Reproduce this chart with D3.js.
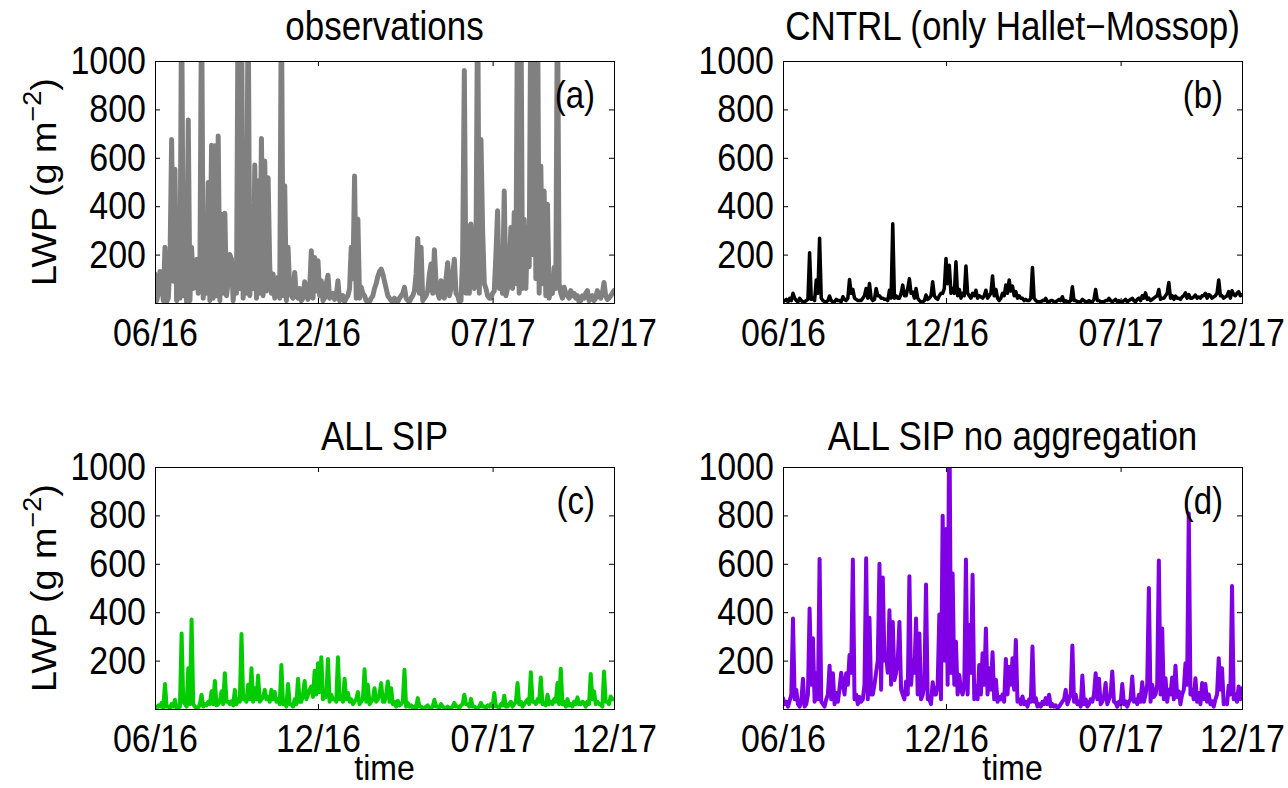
<!DOCTYPE html>
<html lang="en">
<head>
<meta charset="UTF-8">
<title>LWP time series</title>
<style>
    body { margin: 0; background: #ffffff; }
    text { font-family: "Liberation Sans", Arial, Helvetica, sans-serif; fill: #000000; }
    .box { fill: none; stroke: #000000; stroke-width: 1px; }
    .axis .domain { display: none; }
    .axis .tick line { stroke: #000000; stroke-width: 1px; }
    .axis .tick text { font-size: 34px; fill: #000000; }
    .series { fill: none; stroke-linejoin: round; stroke-linecap: round; }
    .title { font-size: 35px; }
    .letter { font-size: 33px; }
    .ylabel { font-size: 35px; }
    .xlabel { font-size: 32px; }
</style>
</head>
<body>
<script src="https://d3js.org/d3.v7.min.js"></script>
<script>
var width = 1288;
var height = 788;

// sampling of the series: one value every 2 days from the start date
var startDate = "2016-06-01";
var stepDays = 2;
var tickDates = ["2016-06-01", "2016-12-14", "2017-07-12", "2017-12-05"];
var yTicks = [200, 400, 600, 800, 1000];

var panelTitles = ["observations", "CNTRL (only Hallet\u2212Mossop)", "ALL SIP", "ALL SIP no aggregation"];
var panelLetters = ["(a)", "(b)", "(c)", "(d)"];
var panelColors = ["#808080", "#000000", "#00cc00", "#8000e6"];
var lineWidths = [5, 3.5, 4, 4];

// LWP (g m-2), values above 1000 run off the top of the axes
var observations = [
    120, 10, 40, 130, 90, 10, 230, 5, 20, 160,
    676, 90, 553, 10, 60, 20, 1300, 30, 150, 5,
    756, 10, 230, 60, 110, 180, 40, 120, 1300, 20,
    216, 40, 498, 10, 652, 20, 650, 30, 690, 10,
    367, 40, 371, 30, 90, 200, 181, 10, 120, 40,
    1300, 60, 1300, 20, 285, 40, 1300, 30, 160, 60,
    570, 20, 505, 40, 680, 30, 587, 50, 518, 150,
    40, 120, 20, 60, 106, 20, 1300, 30, 484, 10,
    230, 60, 30, 20, 126, 30, 20, 60, 10, 20,
    88, 40, 15, 60, 216, 20, 188, 50, 175, 30,
    92, 10, 20, 80, 115, 20, 30, 40, 15, 30,
    92, 10, 20, 30, 5, 20, 30, 60, 230, 100,
    525, 20, 346, 20, 65, 40, 30, 10, 10, 5,
    20, 30, 60, 80, 110, 130, 140, 120, 90, 60,
    30, 20, 10, 5, 20, 10, 5, 20, 30, 40,
    65, 20, 10, 5, 20, 30, 50, 120, 267, 40,
    230, 10, 20, 30, 50, 120, 161, 40, 220, 80,
    40, 20, 92, 60, 20, 100, 166, 30, 60, 120,
    181, 40, 30, 5, 10, 200, 961, 40, 319, 40,
    326, 150, 60, 200, 1300, 40, 676, 300, 80, 60,
    30, 20, 20, 40, 50, 200, 381, 60, 90, 40,
    463, 30, 60, 150, 312, 60, 374, 80, 1300, 40,
    1300, 60, 346, 60, 312, 150, 1300, 200, 1300, 100,
    1300, 40, 566, 80, 463, 30, 408, 20, 60, 40,
    147, 60, 1300, 80, 40, 20, 65, 40, 30, 20,
    51, 30, 40, 20, 30, 5, 10, 30, 20, 40,
    51, 10, 20, 30, 10, 20, 51, 30, 20, 40,
    85, 30, 15, 20, 30, 40, 51
];

var cntrl = [
    5, 10, 15, 5, 19, 10, 40, 20, 10, 5,
    19, 10, 5, 5, 10, 15, 208, 15, 20, 10,
    95, 40, 268, 20, 10, 5, 5, 10, 29, 10,
    5, 5, 15, 10, 10, 5, 26, 15, 10, 20,
    97, 40, 56, 20, 15, 10, 10, 10, 20, 30,
    60, 20, 81, 20, 10, 15, 60, 30, 30, 20,
    20, 15, 15, 10, 53, 20, 327, 20, 30, 20,
    20, 40, 74, 30, 30, 60, 100, 40, 45, 20,
    60, 20, 10, 5, 5, 10, 33, 15, 20, 30,
    88, 30, 20, 15, 30, 40, 40, 60, 184, 80,
    156, 40, 60, 40, 170, 30, 56, 20, 40, 30,
    153, 40, 30, 20, 40, 30, 53, 20, 30, 25,
    20, 30, 53, 20, 30, 40, 112, 30, 56, 20,
    10, 20, 40, 30, 74, 40, 95, 50, 70, 30,
    47, 20, 30, 20, 20, 10, 15, 10, 10, 20,
    147, 20, 10, 5, 5, 5, 10, 10, 19, 5,
    5, 10, 10, 5, 5, 10, 15, 10, 26, 5,
    10, 5, 5, 10, 67, 10, 10, 5, 5, 5,
    15, 10, 5, 5, 10, 5, 5, 15, 56, 10,
    10, 5, 5, 5, 10, 10, 19, 10, 5, 10,
    15, 5, 10, 5, 5, 10, 15, 5, 10, 15,
    19, 10, 5, 15, 20, 10, 30, 20, 42, 15,
    20, 10, 15, 20, 25, 30, 56, 15, 20, 20,
    30, 40, 85, 20, 30, 15, 29, 20, 20, 15,
    25, 30, 42, 20, 35, 20, 20, 25, 33, 20,
    25, 20, 30, 30, 40, 20, 35, 30, 20, 25,
    30, 40, 95, 30, 30, 20, 25, 30, 47, 20,
    51, 35, 30, 40, 47, 30, 35
];

var allSip = [
    10, 5, 15, 10, 25, 5, 103, 10, 10, 5,
    20, 10, 38, 5, 5, 10, 312, 30, 20, 10,
    168, 20, 370, 20, 10, 5, 5, 20, 59, 10,
    20, 15, 30, 20, 73, 20, 116, 15, 20, 30,
    73, 20, 148, 30, 30, 20, 32, 15, 79, 20,
    40, 30, 310, 40, 40, 30, 100, 40, 168, 30,
    86, 40, 138, 30, 40, 50, 79, 40, 50, 30,
    79, 40, 70, 30, 40, 20, 182, 20, 30, 10,
    103, 20, 20, 10, 40, 20, 125, 30, 30, 60,
    116, 40, 60, 80, 93, 50, 158, 60, 189, 70,
    214, 40, 60, 50, 207, 30, 59, 40, 40, 30,
    214, 40, 50, 30, 125, 40, 66, 30, 40, 20,
    30, 40, 70, 20, 30, 40, 164, 30, 100, 20,
    30, 40, 86, 30, 40, 60, 107, 30, 30, 60,
    114, 30, 86, 20, 30, 10, 34, 15, 20, 30,
    162, 10, 25, 10, 15, 5, 10, 5, 45, 10,
    10, 5, 5, 10, 15, 5, 5, 10, 38, 10,
    10, 5, 20, 10, 5, 5, 10, 5, 5, 10,
    25, 10, 10, 5, 15, 20, 59, 20, 20, 10,
    42, 10, 10, 5, 5, 10, 25, 10, 10, 5,
    15, 10, 20, 10, 66, 10, 10, 5, 20, 15,
    55, 10, 10, 20, 30, 10, 20, 30, 107, 20,
    30, 10, 20, 30, 40, 20, 152, 30, 30, 20,
    40, 30, 130, 20, 20, 15, 59, 20, 30, 20,
    40, 30, 107, 20, 166, 20, 30, 10, 41, 15,
    20, 10, 30, 20, 48, 20, 20, 30, 25, 10,
    30, 20, 145, 40, 73, 20, 30, 20, 20, 10,
    155, 30, 30, 20, 52, 40, 40
];

var allSipNoAgg = [
    45, 20, 30, 10, 34, 60, 374, 40, 79, 20,
    10, 30, 125, 10, 20, 60, 415, 100, 292, 30,
    148, 40, 620, 30, 20, 10, 40, 60, 179, 40,
    148, 20, 66, 30, 86, 150, 100, 60, 148, 100,
    223, 150, 618, 40, 59, 20, 50, 30, 40, 100,
    623, 40, 377, 60, 60, 100, 152, 200, 600, 80,
    543, 200, 223, 150, 408, 100, 360, 120, 150, 200,
    360, 80, 60, 40, 114, 60, 549, 100, 200, 150,
    374, 60, 312, 40, 59, 100, 514, 40, 40, 20,
    111, 60, 60, 100, 390, 40, 799, 200, 744, 100,
    1300, 150, 560, 100, 278, 60, 141, 80, 60, 100,
    618, 60, 347, 150, 555, 40, 93, 40, 182, 60,
    230, 100, 333, 60, 168, 80, 234, 40, 121, 30,
    50, 40, 60, 30, 207, 60, 175, 100, 210, 80,
    285, 30, 40, 20, 52, 20, 30, 10, 40, 30,
    258, 30, 45, 10, 20, 10, 30, 20, 45, 20,
    59, 10, 20, 10, 15, 5, 10, 20, 30, 40,
    79, 20, 40, 60, 262, 30, 59, 20, 30, 10,
    138, 20, 40, 10, 20, 40, 30, 60, 148, 40,
    125, 20, 30, 50, 107, 20, 40, 60, 155, 30,
    25, 10, 30, 20, 103, 20, 32, 10, 30, 40,
    134, 30, 40, 20, 59, 30, 111, 30, 60, 100,
    500, 30, 100, 50, 60, 100, 614, 60, 333, 40,
    127, 30, 80, 60, 130, 40, 179, 50, 73, 20,
    60, 80, 189, 100, 808, 60, 80, 40, 127, 30,
    66, 20, 107, 40, 103, 30, 60, 20, 32, 10,
    40, 60, 210, 80, 168, 20, 32, 20, 97, 60,
    508, 40, 60, 30, 93, 40, 86
];

var allSeries = [observations, cntrl, allSip, allSipNoAgg];

var parseDate = d3.timeParse("%Y-%m-%d");
var start = parseDate(startDate);
var ticks = tickDates.map(parseDate);

// panel frames
var panelLeft = [155, 783, 155, 783];
var panelTop = [61, 61, 467, 467];
var titleY = [-21, -21, -17, -17];
var panelWidth = 459;
var panelHeight = 242;
var stretch = "scale(1,1.15)"; // the reference glyphs are a bit taller than wide

var svg = d3.select("body").append("svg")
    .attr("width", width)
    .attr("height", height);

var x = d3.scaleTime()
    .domain([start, ticks[ticks.length - 1]])
    .range([0, panelWidth]);

var y = d3.scaleLinear()
    .domain([0, 1000])
    .range([panelHeight, 0]);

allSeries.forEach(function(values, k) {
    var g = svg.append("g")
        .attr("transform", "translate(" + panelLeft[k] + "," + panelTop[k] + ")");

    g.append("clipPath")
        .attr("id", "clip" + k)
        .append("rect")
        .attr("width", panelWidth)
        .attr("height", panelHeight);

    var points = values.map(function(v, i) {
        return { date: d3.timeDay.offset(start, i * stepDays), value: v };
    });

    var line = d3.line()
        .x(function(d) { return x(d.date); })
        .y(function(d) { return y(d.value); });

    g.append("path")
        .datum(points)
        .attr("class", "series")
        .attr("clip-path", "url(#clip" + k + ")")
        .attr("stroke", panelColors[k])
        .attr("stroke-width", lineWidths[k])
        .attr("d", line);

    // ticks on all four sides, pointing inward
    g.append("g").attr("class", "axis")
        .call(d3.axisLeft(y).tickValues(yTicks).tickSize(-5).tickPadding(9).tickFormat(d3.format("d")));
    g.append("g").attr("class", "axis")
        .attr("transform", "translate(" + panelWidth + ",0)")
        .call(d3.axisRight(y).tickValues(yTicks).tickSize(-5).tickFormat(""));
    g.append("g").attr("class", "axis")
        .attr("transform", "translate(0," + panelHeight + ")")
        .call(d3.axisBottom(x).tickValues(ticks).tickSize(-5).tickPadding(13)
            .tickFormat(d3.timeFormat("%m/%y")));
    g.append("g").attr("class", "axis")
        .call(d3.axisTop(x).tickValues(ticks).tickSize(-5).tickFormat(""));

    g.selectAll(".tick text").attr("transform", stretch);

    g.append("rect")
        .attr("class", "box")
        .attr("x", 0.5)
        .attr("y", 0.5)
        .attr("width", panelWidth)
        .attr("height", panelHeight);

    g.append("text")
        .attr("class", "title")
        .attr("transform", "translate(" + (panelWidth / 2) + "," + titleY[k] + ") " + stretch)
        .attr("text-anchor", "middle")
        .text(panelTitles[k]);

    g.append("text")
        .attr("class", "letter")
        .attr("transform", "translate(" + (panelWidth - 19) + ",47) " + stretch)
        .attr("text-anchor", "end")
        .text(panelLetters[k]);

    if (k % 2 == 0) {
        var lab = g.append("text")
            .attr("class", "ylabel")
            .attr("transform", "translate(-99," + (panelHeight / 2) + ") rotate(-90) scale(1.08,1)")
            .attr("text-anchor", "middle");
        lab.append("tspan").text("LWP (g m");
        lab.append("tspan").attr("dy", -15).style("font-size", "25px").text("\u22122");
        lab.append("tspan").attr("dy", 15).text(")");
    }

    if (k >= 2) {
        g.append("text")
            .attr("class", "xlabel")
            .attr("transform", "translate(" + (panelWidth / 2) + ",313) scale(1,1.1)")
            .attr("text-anchor", "middle")
            .text("time");
    }
});
</script>
</body>
</html>
